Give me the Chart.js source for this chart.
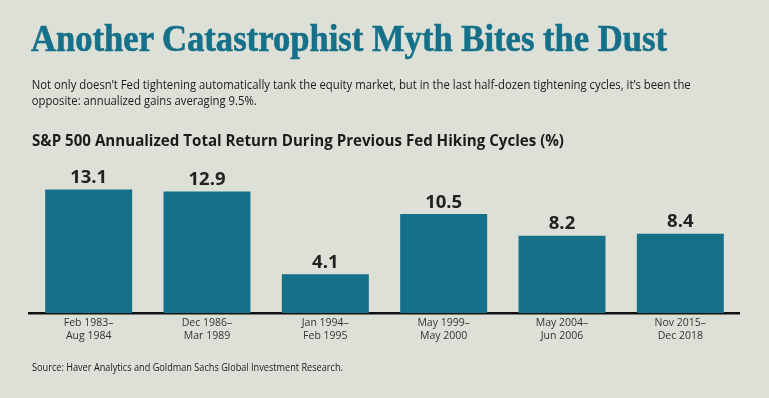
<!DOCTYPE html>
<html>
<head>
<meta charset="utf-8">
<script src="https://cdn.jsdelivr.net/npm/chart.js@4"></script>
<style>
  html, body { margin: 0; padding: 0; background: #dde0d6; }
  #page { position: relative; width: 769px; height: 398px; overflow: hidden; background: #dde0d6; }
  .txt { position: absolute; left: 0; white-space: nowrap; transform-origin: 0 0; color: #1c1c1c; }
  .txt span { display: inline-block; }
  #title { font-family: "Liberation Serif", serif; font-weight: bold; font-size: 37px; line-height: 40px; color: #16708a; -webkit-text-stroke: 0.6px #16708a; }
  .sub { font-family: "Open Sans", sans-serif; font-size: 12.6px; line-height: 17px; }
  #chartTitle { font-family: "Open Sans", sans-serif; font-weight: bold; font-size: 16.5px; line-height: 20px; }
  #source { font-family: "Open Sans", sans-serif; font-size: 10px; line-height: 14px; }
  #chartBox { position: absolute; left: 0; top: 0; width: 769px; height: 398px; }
</style>
</head>
<body>
<div id="page">
  <div id="chartBox"><canvas id="bars"></canvas></div>
  <div class="txt" id="title" data-x="31" data-w="636" style="top:18.5px"><span>Another Catastrophist Myth Bites the Dust</span></div>
  <div class="txt sub" data-x="31.7" data-w="659" style="top:75.6px"><span>Not only doesn’t Fed tightening automatically tank the equity market, but in the last half-dozen tightening cycles, it’s been the</span></div>
  <div class="txt sub" data-x="31.7" data-w="225" style="top:92.3px"><span>opposite: annualized gains averaging 9.5%.</span></div>
  <div class="txt" id="chartTitle" data-x="32" data-w="532" style="top:129.6px"><span>S&amp;P 500 Annualized Total Return During Previous Fed Hiking Cycles (%)</span></div>
  <div class="txt" id="source" data-x="32" data-w="311" style="top:359.6px"><span>Source: Haver Analytics and Goldman Sachs Global Investment Research.</span></div>
</div>
<script>
// hiking cycles and annualized total return (%)
const cycleStarts = ["Feb 1983–", "Dec 1986–", "Jan 1994–", "May 1999–", "May 2004–", "Nov 2015–"];
const cycleEnds = ["Aug 1984", "Mar 1989", "Feb 1995", "May 2000", "Jun 2006", "Dec 2018"];
const annualReturns = [13.1, 12.9, 4.1, 10.5, 8.2, 8.4];

const labels = cycleStarts.map((s, i) => [s, cycleEnds[i]]);

// squeeze each text line to the width it has in the original
document.querySelectorAll(".txt").forEach(el => {
  const span = el.querySelector("span");
  const w = span.getBoundingClientRect().width;
  const sx = parseFloat(el.dataset.w) / w;
  el.style.transform = "translateX(" + el.dataset.x + "px) scaleX(" + sx + ")";
});

const valueLabels = {
  id: "valueLabels",
  afterDatasetsDraw(chart) {
    const ctx = chart.ctx;
    const meta = chart.getDatasetMeta(0);
    ctx.save();
    ctx.font = 'bold 18.5px "Open Sans"';
    ctx.fillStyle = "#222";
    ctx.textAlign = "center";
    ctx.textBaseline = "alphabetic";
    meta.data.forEach((bar, i) => {
      ctx.fillText(annualReturns[i].toFixed(1), bar.x, bar.y - 6.5);
    });
    ctx.restore();
  }
};

new Chart(document.getElementById("bars"), {
  type: "bar",
  data: {
    labels: labels,
    datasets: [{
      data: annualReturns,
      backgroundColor: "#15708a",
      borderWidth: 0,
      categoryPercentage: 1,
      barPercentage: 0.735
    }]
  },
  options: {
    responsive: true,
    maintainAspectRatio: false,
    animation: false,
    events: [],
    layout: { padding: { left: 29.5, right: 29.5, top: 162.2, bottom: 51 } },
    plugins: { legend: { display: false }, tooltip: { enabled: false }, title: { display: false } },
    scales: {
      x: {
        grid: { display: false, drawTicks: false },
        border: { display: true, color: "#111", width: 2.5 },
        ticks: {
          color: "#333",
          padding: 4,
          maxRotation: 0,
          font: { family: "Open Sans", size: 10.5, lineHeight: 1.24 }
        }
      },
      y: {
        display: false,
        min: 0,
        max: 16
      }
    }
  },
  plugins: [valueLabels]
});
</script>
</body>
</html>
